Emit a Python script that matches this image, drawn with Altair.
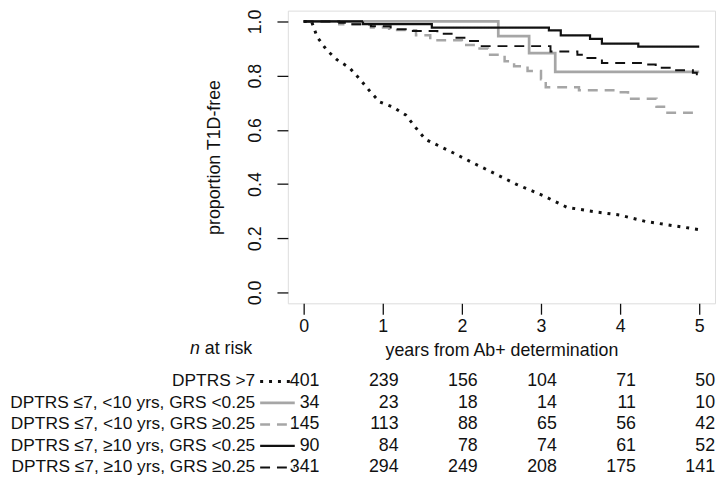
import altair as alt
import pandas as pd

# ---------------- data ----------------
series_names = [
    "DPTRS >7",
    "DPTRS ≤7, <10 yrs, GRS <0.25",
    "DPTRS ≤7, <10 yrs, GRS ≥0.25",
    "DPTRS ≤7, ≥10 yrs, GRS <0.25",
    "DPTRS ≤7, ≥10 yrs, GRS ≥0.25",
]

# DPTRS >7 (dotted)
t_a = [0, 0.10, 0.17, 0.29, 0.42, 0.58, 0.71, 0.83, 0.96, 1.12, 1.29, 1.42, 1.54,
       1.71, 1.92, 2.12, 2.33, 2.69, 3.03, 3.33, 3.70, 3.99, 4.32, 4.66, 5.0]
s_a = [1.0, 1.0, 0.943, 0.895, 0.859, 0.829, 0.787, 0.745, 0.703, 0.685, 0.655, 0.607, 0.565,
       0.541, 0.511, 0.481, 0.451, 0.399, 0.357, 0.314, 0.297, 0.286, 0.262, 0.247, 0.232]

# DPTRS <=7, <10 yrs, GRS <0.25 (grey solid)
t_b = [0, 2.46, 2.85, 3.18, 5.0]
s_b = [1.0, 0.946, 0.883, 0.814, 0.814]

# DPTRS <=7, <10 yrs, GRS >=0.25 (grey dashed)
t_c = [0, 0.45, 0.85, 1.08, 1.42, 1.60, 2.0, 2.19, 2.33, 2.54, 2.66, 2.83, 3.0, 3.06,
       3.48, 3.98, 4.10, 4.46, 4.58, 5.0]
s_c = [1.0, 0.99, 0.978, 0.968, 0.949, 0.931, 0.913, 0.9, 0.877, 0.853, 0.835, 0.817, 0.787, 0.757,
       0.746, 0.739, 0.715, 0.685, 0.663, 0.663]

# DPTRS <=7, >=10 yrs, GRS <0.25 (black solid)
t_d = [0, 0.75, 1.62, 3.10, 3.25, 3.62, 3.77, 4.23, 5.0]
s_d = [1.0, 0.99, 0.977, 0.967, 0.949, 0.936, 0.918, 0.907, 0.907]

# DPTRS <=7, >=10 yrs, GRS >=0.25 (black dashed)
t_e = [0, 0.45, 0.60, 0.85, 1.10, 1.29, 1.69, 1.87, 2.06, 2.23, 3.12, 3.46, 3.56, 3.77,
       4.28, 4.45, 4.67, 4.92, 4.97, 5.0]
s_e = [1.0, 0.995, 0.99, 0.982, 0.971, 0.965, 0.955, 0.94, 0.928, 0.909, 0.889, 0.877, 0.865, 0.847,
       0.841, 0.829, 0.82, 0.811, 0.805, 0.805]

# number at risk
risk_times = [0, 1, 2, 3, 4, 5]
risk_a = [401, 239, 156, 104, 71, 50]
risk_b = [34, 23, 18, 14, 11, 10]
risk_c = [145, 113, 88, 65, 56, 42]
risk_d = [90, 84, 78, 74, 61, 52]
risk_e = [341, 294, 249, 208, 175, 141]

x_ticks = [0, 1, 2, 3, 4, 5]
y_ticks = [0.0, 0.2, 0.4, 0.6, 0.8, 1.0]

# ---------------- styles ----------------
colors = ["#111111", "#a6a6a6", "#a6a6a6", "#111111", "#111111"]
dashes = [[3, 6], [1, 0], [10, 7], [1, 0], [10, 7]]
widths = [3, 2, 3, 3, 3]
FONT = "Liberation Sans"
FS = 18
FS_LAB = 17.5
INK = "#111111"

# ---------------- tables ----------------
curves = []
for name, ts, ss in zip(series_names, [t_a, t_b, t_c, t_d, t_e], [s_a, s_b, s_c, s_d, s_e]):
    for t, s in zip(ts, ss):
        curves.append({"series": name, "t": t, "s": s})
curves = pd.DataFrame(curves)

risk_rows = []
for i, (name, vals) in enumerate(zip(series_names, [risk_a, risk_b, risk_c, risk_d, risk_e])):
    for t, n in zip(risk_times, vals):
        risk_rows.append({"row": i, "series": name, "t": t, "n": str(n)})
risk_df = pd.DataFrame(risk_rows)
label_df = pd.DataFrame({"row": list(range(5)), "series": series_names})

color_sc = alt.Scale(domain=series_names, range=colors)
dash_sc = alt.Scale(domain=series_names, range=dashes)
width_sc = alt.Scale(domain=series_names, range=widths)

x_enc = alt.X(
    "t:Q",
    scale=alt.Scale(domain=[-0.2, 5.2], nice=False, zero=False),
    axis=alt.Axis(
        values=x_ticks, format="d", domain=False, grid=False,
        tickSize=11, tickColor=INK, tickWidth=1.3,
        labelFontSize=FS, labelColor=INK, labelPadding=4, labelFont=FONT,
        title="years from Ab+ determination", titleFontSize=FS, titleFontWeight="normal",
        titleColor=INK, titleFont=FONT, titlePadding=6,
    ),
)
y_enc = alt.Y(
    "s:Q",
    scale=alt.Scale(domain=[-0.04, 1.04], nice=False, zero=False),
    axis=alt.Axis(
        values=y_ticks, format=".1f", domain=False, grid=False,
        tickSize=11, tickColor=INK, tickWidth=1.3,
        labelFontSize=FS, labelColor=INK, labelAngle=270, labelAlign="center",
        labelBaseline="bottom", labelPadding=13, labelFont=FONT,
        title="proportion T1D-free", titleFontSize=FS, titleFontWeight="normal",
        titleColor=INK, titleFont=FONT, titleAngle=270, titleX=-74, titleY=148,
        titleAlign="center", titleBaseline="middle",
    ),
)

base = alt.Chart(curves).encode(
    x=x_enc, y=y_enc,
    color=alt.Color("series:N", scale=color_sc, legend=None),
    strokeDash=alt.StrokeDash("series:N", scale=dash_sc, legend=None),
    strokeWidth=alt.StrokeWidth("series:N", scale=width_sc, legend=None),
    detail="series:N",
)
dotted = base.mark_line(interpolate="linear", strokeCap="butt").transform_filter(
    alt.datum.series == series_names[0]
)
steps = base.mark_line(interpolate="step-after", strokeCap="butt").transform_filter(
    alt.datum.series != series_names[0]
)
curve_layer = alt.layer(steps, dotted)

row_y = alt.Y("row:Q", scale=alt.Scale(domain=[0, 4], range=[375, 462], nice=False, zero=False),
              axis=None)

numbers = alt.Chart(risk_df).mark_text(
    align="right", baseline="middle", dx=16, fontSize=FS, font=FONT, color=INK
).encode(x=alt.X("t:Q"), y=row_y, text="n:N")

labels = alt.Chart(label_df).mark_text(
    align="right", baseline="middle", fontSize=FS_LAB, font=FONT, color=INK
).encode(x=alt.value(-33), y=row_y, text="series:N")

segments = alt.Chart(label_df).mark_rule(strokeCap="butt").encode(
    x=alt.value(-28), x2=alt.value(7), y=row_y,
    color=alt.Color("series:N", scale=color_sc, legend=None),
    strokeDash=alt.StrokeDash("series:N", scale=dash_sc, legend=None),
    strokeWidth=alt.StrokeWidth("series:N", scale=width_sc, legend=None),
)
table_layer = alt.layer(numbers, labels, segments)

nrisk_df = pd.DataFrame({"txt": ["at risk"]})
n_italic = alt.Chart(nrisk_df).mark_text(
    align="right", baseline="middle", fontSize=FS, font=FONT, fontStyle="italic", color=INK
).encode(x=alt.value(-89), y=alt.value(342), text=alt.value("n"))
at_risk = alt.Chart(nrisk_df).mark_text(
    align="right", baseline="middle", fontSize=FS, font=FONT, color=INK
).encode(x=alt.value(-36), y=alt.value(342), text="txt:N")

chart = (
    alt.layer(curve_layer, table_layer, n_italic, at_risk)
    .resolve_scale(y="independent")
    .properties(
        width=432, height=296,
        autosize=alt.AutoSizeParams(type="none"),
        padding={"left": 283, "top": 0, "right": 3, "bottom": 174},
    )
    .configure_view(stroke=INK, strokeWidth=1.3)
    .configure(font=FONT, background="white")
)

chart.save("out.html", embed_options={"renderer": "svg", "actions": False})
